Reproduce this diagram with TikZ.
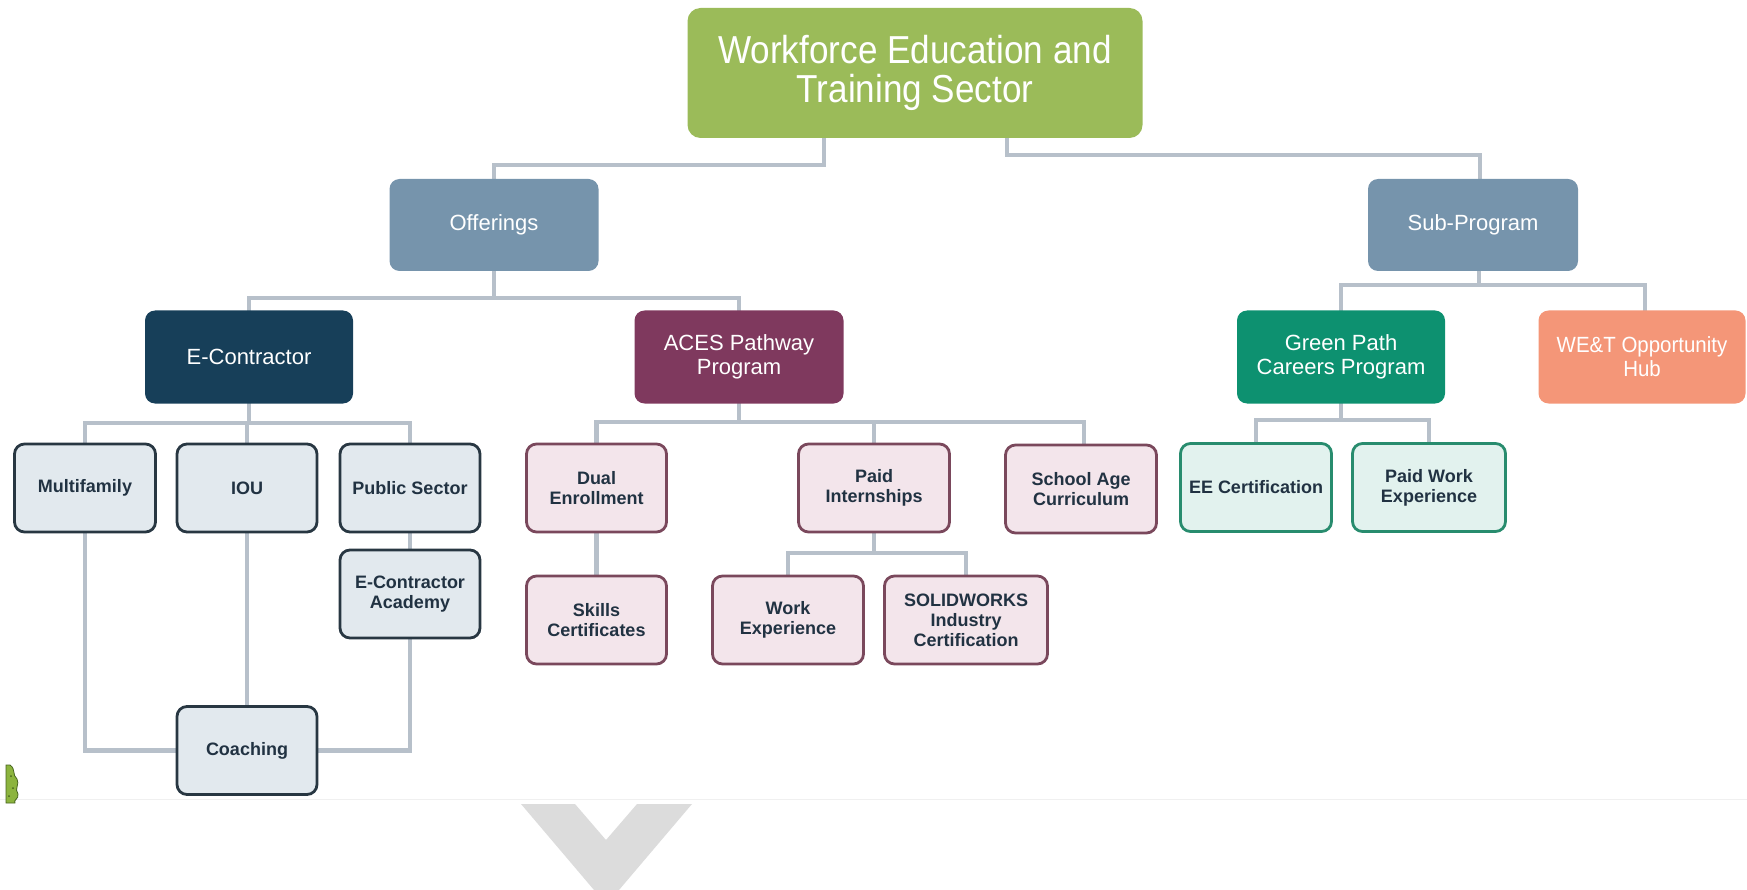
\documentclass[tikz,border=0pt]{standalone}
\usepackage{fontspec}
\setmainfont{Liberation Sans}
\newfontfamily\titlefont[FakeStretch=0.9]{Liberation Sans}
\newfontfamily\narrowfont[FakeStretch=0.93]{Liberation Sans}
\usetikzlibrary{calc,backgrounds}
\definecolor{topfill}{RGB}{155,187,89}
\definecolor{l1fill}{RGB}{118,148,172}
\definecolor{econfill}{RGB}{23,63,89}
\definecolor{acesfill}{RGB}{127,57,94}
\definecolor{greenfill}{RGB}{13,145,112}
\definecolor{hubfill}{RGB}{244,150,120}
\definecolor{lbfill}{RGB}{226,233,238}
\definecolor{lbdraw}{RGB}{40,55,66}
\definecolor{pkfill}{RGB}{243,229,235}
\definecolor{pkdraw}{RGB}{122,72,92}
\definecolor{mtfill}{RGB}{226,242,238}
\definecolor{mtdraw}{RGB}{40,140,110}
\definecolor{leaftext}{RGB}{33,50,66}
\definecolor{connc}{RGB}{183,192,202}
\definecolor{chevc}{RGB}{220,220,220}
\definecolor{sqgreen}{RGB}{140,180,62}
\definecolor{sqdark}{RGB}{70,100,30}
\begin{document}
\begin{tikzpicture}[x=1pt,y=-1pt,
  box/.style={rounded corners=10pt, align=center, inner sep=2pt, anchor=center},
  topbox/.style={box, rounded corners=13pt, fill=topfill, text=white, minimum width=455pt, minimum height=130pt, font=\titlefont\fontsize{39}{39}\selectfont},
  lvlone/.style={box, text=white, minimum height=92pt, font=\fontsize{22}{24}\selectfont},
  leaf/.style={box, draw, line width=2.8pt, minimum height=88pt, text=leaftext, font=\bfseries\fontsize{18}{20}\selectfont},
  blueleaf/.style={leaf, fill=lbfill, draw=lbdraw},
  pinkleaf/.style={leaf, fill=pkfill, draw=pkdraw},
  mintleaf/.style={leaf, fill=mtfill, draw=mtdraw},
  conn/.style={draw=connc, line width=4.5pt, line cap=rect, line join=miter}
]
\useasboundingbox (0,0) rectangle (1747,890);
\draw[line width=1pt, black!6] (0,799) -- (1747,799);

% top
\node[topbox] (top) at (915,73) {Workforce Education and\\Training Sector};
% level 1
\node[lvlone, fill=l1fill, minimum width=209pt] (off) at (494,225) {Offerings};
\node[lvlone, fill=l1fill, minimum width=210pt] (sub) at (1473,225) {Sub-Program};
% level 2
\node[lvlone, fill=econfill, minimum width=208pt, minimum height=93pt] (econ) at (249,357) {E-Contractor};
\node[lvlone, fill=acesfill, minimum width=209pt, minimum height=93pt] (aces) at (739,357) {ACES Pathway\\Program};
\node[lvlone, fill=greenfill, minimum width=208pt, minimum height=93pt] (green) at (1341,357) {Green Path\\Careers Program};
\node[lvlone, fill=hubfill, minimum width=207pt, minimum height=93pt, inner xsep=0pt, font=\narrowfont\fontsize{22}{24}\selectfont] (hub) at (1642,357) {WE\&T Opportunity\\Hub};
% leaves E-Contractor
\node[blueleaf, minimum width=141pt] (multi) at (85,488) {Multifamily};
\node[blueleaf, minimum width=140pt] (iou) at (247,488) {IOU};
\node[blueleaf, minimum width=140pt] (pub) at (410,488) {Public Sector};
\node[blueleaf, minimum width=140pt] (acad) at (410,594) {E-Contractor\\Academy};
\node[blueleaf, minimum width=140pt] (coach) at (247,750.5) {Coaching};
% leaves ACES
\node[pinkleaf, minimum width=140pt] (dual) at (596.5,488) {Dual\\Enrollment};
\node[pinkleaf, minimum width=140pt] (skills) at (596.5,620) {Skills\\Certificates};
\node[pinkleaf, minimum width=151pt] (pint) at (874,488) {Paid\\Internships};
\node[pinkleaf, minimum width=151pt] (school) at (1081,489) {School Age\\Curriculum};
\node[pinkleaf, minimum width=151pt] (work) at (788,620) {Work\\Experience};
\node[pinkleaf, minimum width=163pt] (solid) at (966,620) {SOLIDWORKS\\Industry\\Certification};
% leaves Green Path
\node[mintleaf, minimum width=151pt] (ee) at (1256,487.5) {EE Certification};
\node[mintleaf, minimum width=153pt] (pwe) at (1429,487.5) {Paid Work\\Experience};

% junctions
\coordinate (jT1) at (824,165);
\coordinate (jT2) at (1007,155);
\coordinate (jO) at (494,298);
\coordinate (jS) at (1479,285);
\coordinate (jE) at (249,423);
\coordinate (jA) at (739,422);
\coordinate (jP) at (874,553);
\coordinate (jG) at (1341,420);

\begin{scope}[on background layer]
\draw[conn] (top.south -| jT1) -- (jT1) -| (off.north);
\draw[conn] (top.south -| jT2) -- (jT2) -| ([xshift=7pt]sub.north);
\draw[conn] (off.south) -- (jO);
\draw[conn] (econ.north) |- (jO) -| (aces.north);
\draw[conn] ([xshift=6pt]sub.south) -- (jS);
\draw[conn] (green.north) |- (jS) -| ([xshift=3pt]hub.north);
\draw[conn] (econ.south) -- (jE);
\draw[conn] (multi.north) |- (jE) -| (pub.north);
\draw[conn] (iou.north) -- (iou.north |- jE);
\draw[conn] (pub.south) -- (acad.north);
\draw[conn] (multi.south) |- (coach.west);
\draw[conn] (iou.south) -- (coach.north);
\draw[conn] (acad.south) |- (coach.east);
\draw[conn] (aces.south) -- (jA);
\draw[conn] (dual.north) |- (jA) -| ([xshift=3pt]school.north);
\draw[conn] (pint.north) -- (pint.north |- jA);
\draw[conn] (dual.south) -- (skills.north);
\draw[conn] (pint.south) -- (jP);
\draw[conn] (work.north) |- (jP) -| (solid.north);
\draw[conn] (green.south) -- (jG);
\draw[conn] (ee.north) |- (jG) -| (pwe.north);
\end{scope}

% chevron
\fill[chevc] (521,804) -- (575,804) -- (606,840) -- (637,804) -- (692,804) -- (619,890) -- (594,890) -- cycle;
% small green fragment at left edge
\filldraw[fill=sqgreen, draw=sqdark, line width=0.8pt] (6,765) -- (10,765) .. controls (16,769) and (12,775) .. (17,779) .. controls (20,784) and (14,789) .. (18,794) .. controls (19,799) and (13,800) .. (15,803) -- (6,803) -- cycle;
\fill[sqdark] (11,776) circle (1pt) (13,788) circle (1pt) (9,796) circle (1pt);
\end{tikzpicture}
\end{document}
